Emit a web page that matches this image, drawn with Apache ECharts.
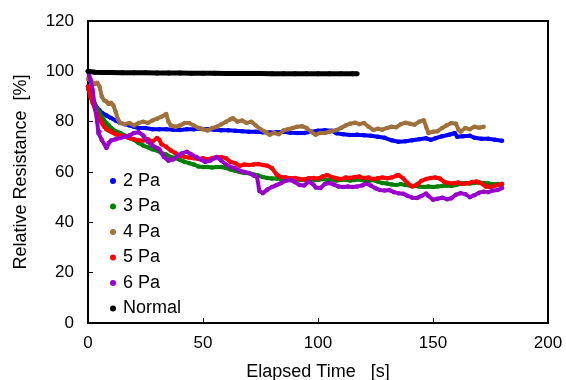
<!DOCTYPE html>
<html>
<head>
<meta charset="utf-8">
<script src="https://cdn.jsdelivr.net/npm/echarts@6/dist/echarts.min.js"></script>
<style>
  html, body { margin: 0; padding: 0; background: #fff; }
  #chart { width: 566px; height: 380px; }
</style>
</head>
<body>
<div id="chart"></div>
<script>
// values: [time s, relative resistance %]
const names = ['2 Pa', '3 Pa', '4 Pa', '5 Pa', '6 Pa', 'Normal'];
const colors = ['#0000ff', '#008000', '#a0703c', '#ff0000', '#9900cc', '#000000'];

const pa2 = [[0,94],[1,91],[2,89],[3,87],[4,85.5],[5,84.5],[6,83.5],[8,82.5],[10,81.5],[12,80.5],[14,79.5],[16,79],[18,78.5],[20,78],[22,77.5],[25,77.5],[28,77],[31,77],[34,77],[37,76.8],[40,76.7],[43,77],[46,77],[49,77.2],[52,77],[55,76.8],[58,76.6],[61,76.6],[64,76.4],[67,76.2],[70,76],[73,76],[76,75.8],[79,75.7],[82,75.8],[85,76],[88,75.6],[91,75.5],[94,75.5],[97,76],[100,76.4],[103,76.6],[106,76.4],[108,75.4],[111,75],[114,74.7],[117,74.8],[120,74.6],[123,74.4],[126,74],[129,73.6],[132,72.6],[135,72],[138,72.2],[141,72.6],[144,73],[147,73.4],[149,72.8],[151,73.4],[154,74.2],[157,74.8],[159.5,75.5],[160.5,74],[163,74.2],[166,74.4],[168,73.6],[171,73.2],[174,73.2],[177,72.8],[180,72.4]];

const pa3 = [[0,93],[1,91.4],[2,89],[3,87],[4,85],[5,83.5],[6,82],[7,80.5],[8,79.5],[9,78.5],[10,77.5],[12,76.2],[14,75.5],[16,74.5],[18,73.5],[20,72.8],[22,71.5],[24,70.5],[26,69.8],[28,69],[30,68.5],[32,67.5],[34,67],[36,66],[38,65.5],[40,64.8],[42,64],[44,63.5],[46,63],[48,62.2],[50,62],[52,62],[54,61.8],[56,62],[58,62],[60,61.6],[62,61],[64,60.5],[66,60],[68,59.6],[70,59.5],[72,59],[74,58.6],[76,58],[78,57.6],[80,57.4],[82,57.4],[84,57.2],[86,57],[88,56.8],[90,56.8],[92,57],[94,56.8],[96,56.6],[98,56.8],[100,56.8],[102,57.2],[104,56.8],[106,57],[108,56.6],[110,56.8],[112,57],[114,56.6],[116,56.8],[118,57],[120,56.6],[122,56.4],[124,56.8],[126,56.2],[128,55.6],[130,55.4],[132,55],[134,54.8],[136,55.2],[138,54.8],[140,54.6],[142,54.4],[144,54.2],[146,54],[148,54.2],[150,54],[152,54.2],[154,54.4],[156,54.6],[158,54.4],[160,54.8],[162,55.4],[164,55.6],[166,55.4],[168,55.6],[170,55.8],[172,55.6],[174,55.4],[176,55.2],[178,55.2],[180,55]];

const pa4 = [[0,97],[1,96.5],[2,95.5],[3,95],[4,95.5],[5,94],[6,90],[7,88.5],[8,88],[9,87],[10,87.5],[11,86.5],[12,84],[13,81],[14,79.5],[16,79],[18,79.5],[20,78.5],[22,79.5],[24,80],[26,79.5],[28,80.5],[30,81.2],[32,82],[34,83],[35,80],[36,78.5],[38,78],[40,78.5],[42,79.5],[44,79.5],[46,78.5],[48,77.5],[50,77],[52,76.5],[54,77.5],[56,78],[58,79],[60,80],[62,81],[63,81.4],[65,80],[67,80.5],[69,79.5],[71,80],[73,78.5],[75,77],[77,76],[79,74.8],[81,75.5],[83,75],[85,76.5],[87,77],[89,77.5],[91,78],[93,78.2],[95,77.5],[97,76],[99,74.8],[101,75.5],[103,75.5],[105,76],[108,76.7],[110,77.5],[112,78.5],[114,79.2],[116,79.6],[118,79],[120,79.5],[122,78],[124,76.7],[126,77.2],[128,76.8],[130,77.5],[132,78],[134,77.8],[136,79],[138,79.6],[140,79.2],[142,78.8],[144,80],[146,80.6],[147,78],[148,75.5],[150,76],[152,76.2],[154,77.5],[156,78.6],[158,79.5],[160,79.2],[161,77],[162,76],[164,77.5],[166,77],[168,78],[170,77.6],[172,78]];

const pa5 = [[0,94],[1,90],[2,87.5],[3,85],[4,83],[5,81],[6,79.5],[7,78],[8,77],[9,76.5],[10,76],[11,75.5],[12,75],[14,74.5],[16,74],[18,73.5],[20,73],[22,72.5],[24,72.5],[26,73],[28,72],[30,73.5],[31,72.8],[32,71],[34,70],[36,68.5],[38,67.5],[40,66.5],[42,66],[44,65.8],[46,65.5],[48,65.2],[50,65.5],[52,65],[54,65.5],[56,66],[58,66],[60,65.5],[62,64],[64,63.5],[66,62.5],[68,63],[70,62.8],[72,63],[74,63.2],[76,62.8],[78,62.5],[80,61.5],[82,59],[84,58],[86,57.8],[88,57.5],[90,57.6],[92,57.2],[94,57],[96,57.5],[98,57.6],[100,57.4],[102,58.2],[104,58.8],[106,58],[108,57.5],[110,57.2],[112,57.8],[114,57.6],[116,58],[118,58.2],[120,57.6],[122,57.8],[124,57.2],[126,57.5],[128,57.8],[130,57.5],[132,57.8],[134,58.5],[135,58.8],[137,57.5],[139,55.5],[141,54.2],[143,55],[145,56.5],[147,57.2],[149,57.6],[151,57.8],[153,57.4],[155,56],[157,55.6],[159,55.5],[161,55.8],[163,55.2],[165,55.5],[167,56],[169,56.2],[171,55.5],[173,54.2],[175,54],[177,54.6],[179,55],[180,55.3]];

const pa6 = [[0,100],[1,97],[2,92.6],[3,85.8],[4,80],[4.5,75.5],[5,76],[6,72.7],[8,69.5],[9,71.5],[10,72.5],[12,73],[14,73.5],[16,74],[18,74.5],[20,75.5],[22,75.8],[24,74.5],[26,72],[28,70.5],[30,69.5],[31,69],[33,66],[35,64.5],[37,65],[39,66.5],[41,67.5],[43,68],[45,67],[47,66],[49,65],[51,64],[53,64.5],[55,65.5],[56,66],[58,64.5],[60,63],[62,62],[64,61.5],[66,60.5],[68,60],[70,59.6],[72,58.6],[73.5,58],[74.5,52.5],[76,51.6],[78,53],[80,54],[82,54.8],[84,55.6],[86,56.5],[88,56.8],[90,56],[92,54.8],[94,54.6],[96,56.2],[98,55],[99,53.8],[101,53.6],[103,55.2],[105,55.6],[107,55],[109,54.2],[111,54],[113,54.2],[115,54],[117,54.2],[119,54.6],[121,55.4],[123,54.6],[125,53.5],[127,52.8],[129,52.6],[131,52.8],[133,52],[135,51.6],[137,51.4],[139,50.5],[141,49.8],[143,49.7],[145,50.5],[147,51.5],[148,50.5],[150,49],[152,49.4],[154,49.8],[156,49.2],[158,49.6],[160,51],[162,51.6],[164,51.2],[166,50],[168,50.8],[170,51.8],[172,52.2],[174,52],[176,52.6],[178,52.8],[180,53.6]];

const normal = [[0,100],[3,99.6],[6,99.5],[10,99.5],[15,99.4],[20,99.4],[25,99.4],[30,99.3],[35,99.3],[40,99.3],[45,99.2],[50,99.2],[55,99.2],[60,99.1],[65,99.1],[70,99.1],[75,99.1],[80,99],[85,99],[90,99],[95,99],[100,99],[105,99],[110,99],[115,99],[117,99]];

const allData = [pa2, pa3, pa4, pa5, pa6, normal];

const chart = echarts.init(document.getElementById('chart'));
const font = 'Liberation Sans, Arial, sans-serif';

chart.setOption({
  animation: false,
  backgroundColor: '#fff',
  grid: {
    left: 88, right: 18, top: 21, bottom: 57,
    outerBoundsMode: 'none',
    show: true, borderColor: '#000', borderWidth: 2
  },
  legend: {
    orient: 'vertical',
    left: 105, top: 167,
    itemGap: 7.5,
    itemWidth: 6, itemHeight: 6,
    icon: 'circle',
    textStyle: { fontFamily: font, fontSize: 18, color: '#000', padding: [0, 0, 0, 2] },
    data: names
  },
  xAxis: {
    type: 'value',
    min: 0, max: 200, interval: 50,
    name: 'Elapsed Time   [s]',
    nameLocation: 'middle',
    nameGap: 40,
    nameTextStyle: { fontFamily: font, fontSize: 18, color: '#000' },
    axisLine: { lineStyle: { color: '#000', width: 2 } },
    axisTick: { inside: true, length: 5, lineStyle: { color: '#000' } },
    axisLabel: { fontFamily: font, fontSize: 17, color: '#000', margin: 12 },
    splitLine: { show: false }
  },
  yAxis: {
    type: 'value',
    min: 0, max: 120, interval: 20,
    name: 'Relative Resistance  [%]',
    nameLocation: 'middle',
    nameGap: 58,
    nameTextStyle: { fontFamily: font, fontSize: 18, color: '#000' },
    axisLine: { lineStyle: { color: '#000', width: 2 } },
    axisTick: { inside: true, length: 5, lineStyle: { color: '#000' } },
    axisLabel: { fontFamily: font, fontSize: 17, color: '#000', margin: 14 },
    splitLine: { show: false }
  },
  series: names.map((n, i) => ({
    name: n,
    type: 'line',
    data: allData[i],
    color: colors[i],
    symbol: 'circle',
    symbolSize: i === 5 ? 5 : 4.5,
    showSymbol: true,
    lineStyle: { width: i === 5 ? 5 : 4, color: colors[i] },
    itemStyle: { color: colors[i] },
    z: 2 + i
  }))
});
</script>
</body>
</html>
